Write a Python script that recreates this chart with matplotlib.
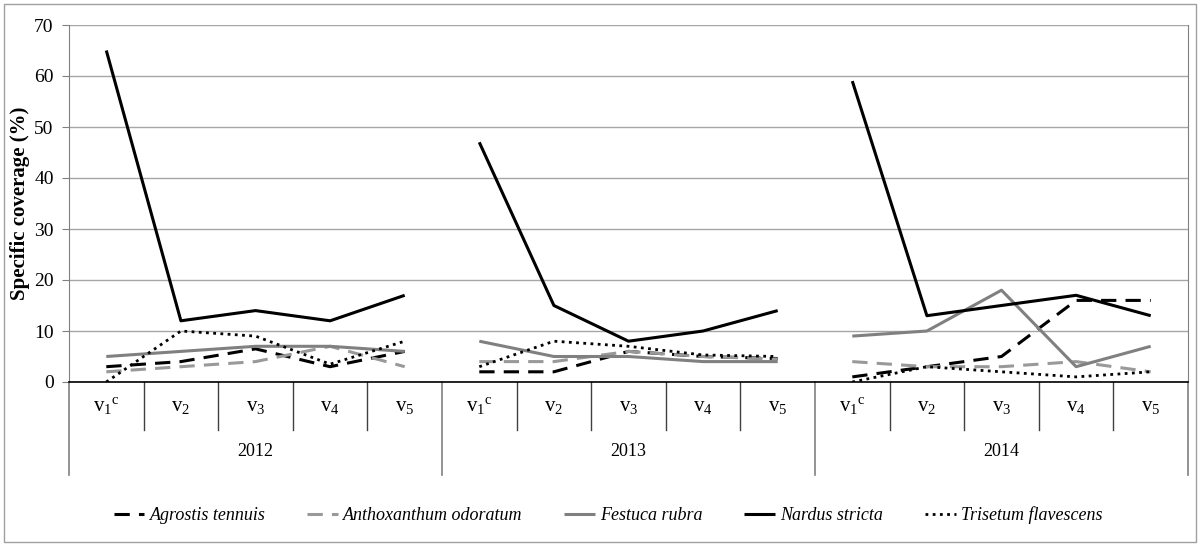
import numpy as np
import matplotlib.pyplot as plt
from matplotlib.patches import Rectangle

years = ['2012', '2013', '2014']
variants = [r'$\mathregular{v_1{}^{c}}$', r'$\mathregular{v_2}$', r'$\mathregular{v_3}$',
            r'$\mathregular{v_4}$', r'$\mathregular{v_5}$']

# coverage per species, 5 variants x 3 years
agrostis = [3, 4, 6.5, 3, 6,   2, 2, 6, 5, 4.6,   1, 3, 5, 16, 16]
anthoxanthum = [2, 3, 4, 7, 3,   4, 4, 6, 5, 4.5,   4, 3, 3, 4, 2]
festuca = [5, 6, 7, 7, 6,   8, 5, 5, 4, 4,   9, 10, 18, 3, 7]
nardus = [65, 12, 14, 12, 17,   47, 15, 8, 10, 14,   59, 13, 15, 17, 13]
trisetum = [0, 10, 9, 3.5, 8,   3, 8, 7, 5.3, 5,   0, 3, 2, 1, 2]

series = [
    ('Agrostis tennuis', agrostis, dict(color='black', ls=(0, (5, 3)), lw=2.2)),
    ('Anthoxanthum odoratum', anthoxanthum, dict(color='#999999', ls=(0, (5, 3)), lw=2.2)),
    ('Festuca rubra', festuca, dict(color='#808080', ls='-', lw=2.2)),
    ('Nardus stricta', nardus, dict(color='black', ls='-', lw=2.2)),
    ('Trisetum flavescens', trisetum, dict(color='black', ls=(0, (1, 1.6)), lw=2.0)),
]

plt.rcParams['font.family'] = ['Liberation Serif', 'DejaVu Serif']
plt.rcParams['mathtext.fontset'] = 'custom'
plt.rcParams['mathtext.rm'] = 'Liberation Serif'

fig = plt.figure(figsize=(12.04, 5.46), dpi=100)
ax = fig.add_axes([69/1204, 1 - 382/546, (1188-69)/1204, (382-25)/546])

x = np.arange(15) + 0.5
handles = []
for name, vals, st in series:
    vals = np.array(vals, dtype=float)
    for g in range(3):
        sl = slice(g*5, g*5+5)
        h, = ax.plot(x[sl], vals[sl], solid_capstyle='butt', dash_capstyle='butt', **st)
    h.set_label(name)
    handles.append(h)

ax.set_xlim(0, 15)
ax.set_ylim(0, 70)
ax.set_yticks(range(0, 71, 10))
ax.tick_params(axis='y', labelsize=14, length=5, color='#808080', pad=6)
ax.set_xticks([])
ax.yaxis.grid(True, color='#a6a6a6', lw=1)
ax.set_axisbelow(True)
ax.spines['top'].set_visible(False)
ax.spines['left'].set_color('#808080')
ax.spines['right'].set_color('#808080')
ax.spines['bottom'].set_color('black')
ax.spines['bottom'].set_linewidth(1.2)
ax.set_ylabel('Specific coverage (%)', fontsize=15, fontweight='bold', labelpad=3)

# category axis below the plot
tr = ax.get_xaxis_transform()
y_in = -48/357
y_out = -93/357
for i in range(16):
    if i % 5 == 0:
        ax.plot([i, i], [0, y_out], transform=tr, color='#808080', lw=1.2, clip_on=False)
    else:
        ax.plot([i, i], [0, y_in], transform=tr, color='#404040', lw=1, clip_on=False)
for i in range(15):
    ax.text(i + 0.5, -24/357, variants[i % 5], transform=tr, ha='center', va='center', fontsize=15)
for g, yr in enumerate(years):
    ax.text(g*5 + 2.5, -70/357, yr, transform=tr, ha='center', va='center', fontsize=13)

leg = fig.legend(handles=handles, loc='center', bbox_to_anchor=(0.505, 1 - 515/546), ncol=5,
                 frameon=False, handlelength=1.7, columnspacing=2.3, handletextpad=0.3,
                 prop=dict(family='Liberation Serif', style='italic', size=13))

fig.patches.append(Rectangle((4/1204, 4/546), 1192/1204, 538/546, transform=fig.transFigure,
                             fill=False, edgecolor='#a0a0a0', lw=1))

fig.savefig('out.png', dpi=100)
